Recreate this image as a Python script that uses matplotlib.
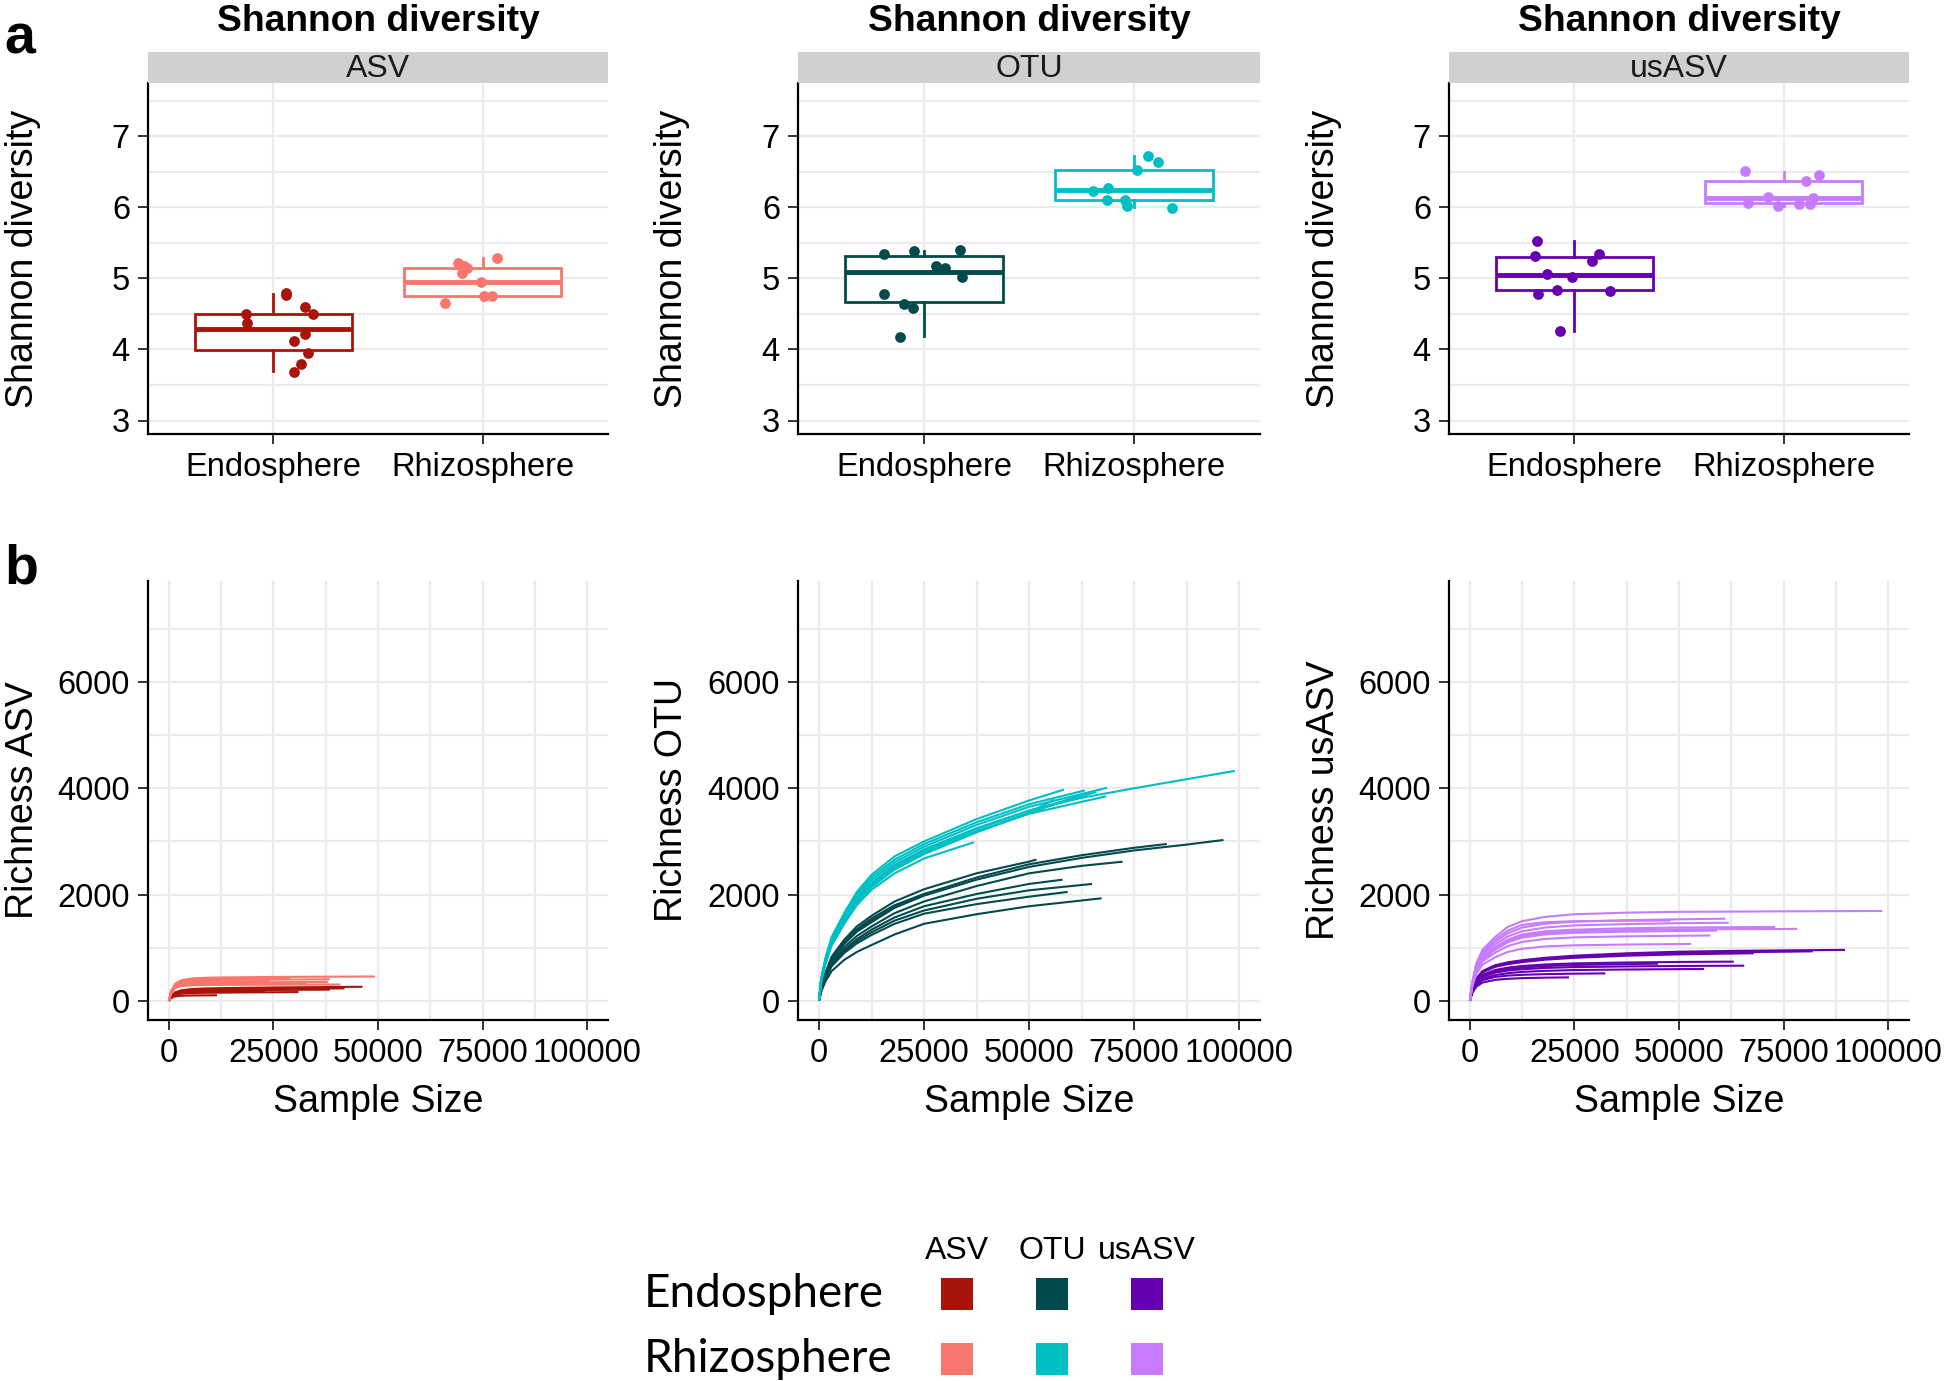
import matplotlib
matplotlib.use("Agg")
import matplotlib.pyplot as plt
from matplotlib.ticker import MultipleLocator

plt.rcParams['font.family'] = ['Liberation Sans', 'DejaVu Sans']

W, H = 1946, 1381

methods = ['ASV', 'OTU', 'usASV']
compartments = ['Endosphere', 'Rhizosphere']
endo_colors = ['#A8140A', '#034A4C', '#6600AE']
rhizo_colors = ['#F8766D', '#00BFC4', '#C77CFF']

# ---- a: Shannon diversity (points + box stats) ----
asv_endo_vals = [4.79, 4.77, 4.50, 4.37, 4.60, 4.50, 4.22, 4.12, 3.95, 3.79, 3.68]
asv_endo_jit = [0.058, 0.06, -0.13, -0.126, 0.151, 0.188, 0.151, 0.097, 0.164, 0.13, 0.10]
asv_rhizo_vals = [5.21, 5.15, 5.07, 5.28, 4.95, 4.75, 4.75, 4.65, 5.18]
asv_rhizo_jit = [-0.116, -0.072, -0.10, 0.068, -0.008, 0.006, 0.044, -0.178, -0.09]
otu_endo_vals = [5.35, 5.38, 5.40, 5.18, 5.15, 5.02, 4.78, 4.64, 4.59, 4.18]
otu_endo_jit = [-0.19, -0.047, 0.17, 0.057, 0.10, 0.18, -0.19, -0.095, -0.051, -0.116]
otu_rhizo_vals = [6.72, 6.64, 6.52, 6.23, 6.27, 6.10, 6.11, 6.02, 5.99]
otu_rhizo_jit = [0.069, 0.116, 0.014, -0.197, -0.124, -0.128, -0.041, -0.032, 0.181]
usasv_endo_vals = [5.53, 5.31, 5.35, 5.25, 5.06, 5.02, 4.78, 4.83, 4.82, 4.26]
usasv_endo_jit = [-0.177, -0.189, 0.119, 0.085, -0.133, -0.01, -0.173, -0.083, 0.171, -0.068]
usasv_rhizo_vals = [6.51, 6.46, 6.37, 6.14, 6.13, 6.06, 6.02, 6.04, 6.05]
usasv_rhizo_jit = [-0.183, 0.169, 0.105, -0.074, 0.139, -0.169, -0.026, 0.074, 0.125]

# q1, median, q3, whisker low, whisker high
box_stats = {
    'ASV': [(3.99, 4.29, 4.50, 3.69, 4.78), (4.75, 4.95, 5.15, 4.70, 5.28)],
    'OTU': [(4.67, 5.09, 5.31, 4.19, 5.39), (6.10, 6.24, 6.53, 6.00, 6.72)],
    'usASV': [(4.83, 5.05, 5.30, 4.26, 5.53), (6.06, 6.125, 6.37, 6.02, 6.50)],
}
points = {
    'ASV': [(asv_endo_vals, asv_endo_jit), (asv_rhizo_vals, asv_rhizo_jit)],
    'OTU': [(otu_endo_vals, otu_endo_jit), (otu_rhizo_vals, otu_rhizo_jit)],
    'usASV': [(usasv_endo_vals, usasv_endo_jit), (usasv_rhizo_vals, usasv_rhizo_jit)],
}

# ---- b: rarefaction curves, richness read at these sample sizes, then end point ----
sizes = [0, 500, 1500, 3000, 6000, 9000, 12500, 18000, 25000, 37500, 50000, 62500, 75000, 87500]

asv_endo_curves = [
    (46300, 265, [0, 90, 160, 200, 225, 234, 240, 246, 252, 260]),
    (42000, 235, [0, 85, 150, 185, 205, 212, 218, 223, 228, 233]),
    (38500, 212, [0, 80, 140, 170, 185, 190, 195, 200, 205]),
    (31000, 166, [0, 70, 115, 135, 148, 152, 155, 159, 162]),
    (23000, 178, [0, 75, 125, 150, 165, 169, 172, 175]),
    (11500, 106, [0, 55, 85, 97, 102, 104]),
]
asv_rhizo_curves = [
    (49300, 458, [0, 180, 320, 390, 425, 434, 440, 445, 450, 455]),
    (38500, 405, [0, 165, 300, 360, 385, 391, 395, 398, 400]),
    (38000, 355, [0, 150, 270, 320, 340, 345, 348, 350, 352]),
    (41000, 308, [0, 140, 240, 280, 295, 298, 300, 302, 305]),
    (29000, 422, [0, 170, 310, 375, 405, 411, 415, 418, 420]),
    (33000, 332, [0, 145, 255, 300, 318, 322, 325, 328, 330]),
    (24000, 372, [0, 160, 285, 340, 360, 365, 368, 370]),
]
otu_endo_curves = [
    (51800, 2658, [0, 250, 520, 830, 1150, 1400, 1600, 1870, 2100, 2400, 2620]),
    (96300, 3027, [0, 230, 480, 770, 1070, 1300, 1480, 1750, 1980, 2280, 2520, 2690, 2830, 2940]),
    (82800, 2952, [0, 235, 490, 780, 1090, 1320, 1510, 1780, 2010, 2320, 2570, 2740, 2880]),
    (72300, 2619, [0, 215, 450, 720, 1010, 1220, 1400, 1650, 1870, 2160, 2400, 2540]),
    (65000, 2200, [0, 200, 420, 670, 930, 1120, 1290, 1510, 1700, 1920, 2080]),
    (59200, 2050, [0, 195, 410, 650, 900, 1080, 1240, 1450, 1640, 1820, 1960]),
    (67300, 1930, [0, 170, 360, 560, 770, 920, 1050, 1250, 1450, 1630, 1780]),
    (26600, 2030, [0, 240, 500, 800, 1110, 1350, 1550, 1800, 2010]),
    (58000, 2280, [0, 205, 430, 690, 960, 1160, 1340, 1570, 1780, 2010, 2200]),
]
otu_rhizo_curves = [
    (58300, 3975, [0, 420, 800, 1200, 1650, 2050, 2370, 2720, 3000, 3420, 3770]),
    (63300, 3960, [0, 400, 780, 1170, 1610, 2000, 2320, 2660, 2950, 3360, 3700]),
    (68600, 4010, [0, 390, 760, 1140, 1570, 1950, 2270, 2610, 2900, 3310, 3650]),
    (68400, 3850, [0, 370, 720, 1080, 1500, 1870, 2180, 2510, 2800, 3190, 3520]),
    (99000, 4327, [0, 380, 740, 1110, 1530, 1910, 2220, 2560, 2850, 3250, 3580, 3820, 4000, 4170]),
    (36900, 2985, [0, 350, 690, 1040, 1450, 1800, 2090, 2400, 2680]),
    (62600, 3880, [0, 360, 700, 1060, 1470, 1840, 2140, 2470, 2760, 3170, 3530]),
    (66000, 3930, [0, 375, 730, 1100, 1520, 1890, 2200, 2530, 2830, 3230, 3580]),
    (56000, 3790, [0, 365, 710, 1070, 1480, 1850, 2150, 2480, 2770, 3180, 3540]),
]
usasv_endo_curves = [
    (89700, 959, [0, 200, 420, 560, 670, 725, 765, 810, 850, 895, 925, 940, 950]),
    (82000, 932, [0, 195, 405, 545, 650, 705, 745, 790, 830, 870, 900, 915, 925]),
    (67900, 896, [0, 190, 400, 535, 640, 690, 730, 775, 810, 850, 875, 890]),
    (63100, 738, [0, 180, 370, 490, 580, 625, 655, 685, 705, 722, 732]),
    (65600, 662, [0, 170, 345, 450, 530, 570, 595, 620, 635, 648, 657]),
    (56000, 600, [0, 160, 320, 415, 485, 520, 545, 565, 580, 590, 597]),
    (32400, 517, [0, 150, 300, 390, 450, 475, 490, 503, 512]),
    (23700, 442, [0, 135, 265, 345, 395, 415, 428, 437]),
    (45000, 700, [0, 175, 360, 470, 555, 600, 625, 655, 675, 692]),
]
usasv_rhizo_curves = [
    (98600, 1691, [0, 320, 700, 960, 1200, 1390, 1500, 1580, 1630, 1660, 1675, 1680, 1685, 1688]),
    (61100, 1546, [0, 300, 650, 890, 1110, 1270, 1380, 1450, 1490, 1518, 1535]),
    (61900, 1470, [0, 290, 620, 850, 1060, 1210, 1310, 1380, 1420, 1445, 1462]),
    (78300, 1356, [0, 280, 590, 800, 990, 1130, 1220, 1280, 1310, 1332, 1345, 1350, 1352]),
    (73000, 1390, [0, 285, 600, 815, 1010, 1150, 1250, 1310, 1340, 1365, 1380, 1386]),
    (59100, 1322, [0, 270, 570, 780, 960, 1100, 1190, 1250, 1280, 1302, 1315]),
    (57500, 1230, [0, 260, 545, 740, 905, 1030, 1110, 1165, 1195, 1215, 1225]),
    (52900, 1072, [0, 245, 505, 680, 820, 920, 980, 1025, 1045, 1060, 1068]),
    (48000, 1512, [0, 310, 670, 920, 1150, 1320, 1430, 1480, 1500, 1508]),
]
curves = {
    'ASV': (asv_endo_curves, asv_rhizo_curves),
    'OTU': (otu_endo_curves, otu_rhizo_curves),
    'usASV': (usasv_endo_curves, usasv_rhizo_curves),
}

shannon_ticks = [3, 4, 5, 6, 7]
richness_ticks = [0, 2000, 4000, 6000]
size_ticks = [0, 25000, 50000, 75000, 100000]

GRID = '#EBEBEB'
TICK_FS = 23.5
LAB_FS = 27


def px(x0, y0, x1, y1):
    # pixel box -> figure fraction rect
    return [x0 / W, 1 - y1 / H, (x1 - x0) / W, (y1 - y0) / H]


def style(ax):
    for s in ['top', 'right']:
        ax.spines[s].set_visible(False)
    for s in ['left', 'bottom']:
        ax.spines[s].set_linewidth(1.6)
        ax.spines[s].set_color('black')
    ax.tick_params(which='major', length=7, width=1.4, color='#333333',
                   labelsize=TICK_FS, labelcolor='black', pad=6)
    ax.tick_params(which='minor', length=0)
    ax.set_axisbelow(True)
    ax.set_facecolor('white')


fig = plt.figure(figsize=(W / 100, H / 100), dpi=100)

col_x = [(148, 608), (798, 1260), (1449, 1909)]

for i, m in enumerate(methods):
    x0, x1 = col_x[i]
    # --- top row: box plots ---
    ax = fig.add_axes(px(x0, 83, x1, 434))
    style(ax)
    ax.xaxis.grid(True, which='major', color=GRID, lw=1.6)
    ax.yaxis.grid(True, which='both', color=GRID, lw=1.6)
    ax.yaxis.set_minor_locator(MultipleLocator(0.5))
    cols = [endo_colors[i], rhizo_colors[i]]
    for j in range(2):
        q1, med, q3, lo, hi = box_stats[m][j]
        st = [dict(q1=q1, med=med, q3=q3, whislo=lo, whishi=hi, fliers=[])]
        c = cols[j]
        ax.bxp(st, positions=[j + 1], widths=0.75, showfliers=False, showcaps=False,
               patch_artist=True,
               boxprops=dict(facecolor='white', edgecolor=c, lw=2.0),
               medianprops=dict(color=c, lw=3.5),
               whiskerprops=dict(color=c, lw=2.0), zorder=2)
        vals, jit = points[m][j]
        ax.scatter([j + 1 + d for d in jit], vals, s=60, color=c, lw=0, zorder=3)
    ax.set_xlim(0.4, 2.6)
    ax.set_ylim(2.81, 7.75)
    ax.set_xticks([1, 2])
    ax.set_xticklabels(compartments)
    ax.set_yticks(shannon_ticks)
    ax.set_ylabel('Shannon diversity', fontsize=LAB_FS)
    ax.yaxis.set_label_coords(-0.233, 0.5)

    strip = fig.add_axes(px(x0, 52, x1, 83))
    strip.set_facecolor('#D0D0D0')
    strip.set_xticks([])
    strip.set_yticks([])
    for s in strip.spines.values():
        s.set_visible(False)
    strip.text(0.5, 0.45, m, ha='center', va='center', fontsize=23, color='#1a1a1a')

    fig.text((x0 + x1) / 2 / W, 1 - 31 / H, 'Shannon diversity', ha='center',
             va='baseline', fontsize=26.8, fontweight='bold')

    # --- bottom row: rarefaction ---
    bx = fig.add_axes(px(x0, 581, x1, 1020))
    style(bx)
    bx.grid(True, which='both', color=GRID, lw=1.6)
    bx.xaxis.set_minor_locator(MultipleLocator(12500))
    bx.yaxis.set_minor_locator(MultipleLocator(1000))
    endo_c, rhizo_c = curves[m]
    for group, c in ((endo_c, endo_colors[i]), (rhizo_c, rhizo_colors[i])):
        for end_x, end_y, vals in group:
            xs = sizes[:len(vals)] + [end_x]
            ys = vals + [end_y]
            bx.plot(xs, ys, color=c, lw=1.5, solid_capstyle='butt',
                    solid_joinstyle='round', zorder=2)
    bx.set_xlim(-5000, 105000)
    bx.set_ylim(-360, 7900)
    bx.set_xticks(size_ticks)
    bx.set_xticklabels([str(t) for t in size_ticks])
    bx.set_yticks(richness_ticks)
    bx.set_yticklabels([str(t) for t in richness_ticks])
    bx.set_ylabel('Richness ' + m, fontsize=LAB_FS)
    bx.yaxis.set_label_coords(-0.233, 0.5)
    bx.set_xlabel('Sample Size', fontsize=LAB_FS)
    bx.xaxis.set_label_coords(0.5, -0.145)

fig.text(4 / W, 1 - 54 / H, 'a', fontsize=40, fontweight='bold', va='baseline')
fig.text(4 / W, 1 - 583 / H, 'b', fontsize=40, fontweight='bold', va='baseline')

# ---- manual legend ----
lg = fig.add_axes(px(957, 1294, 1147, 1359))
lg.set_xlim(0, 2)
lg.set_ylim(1, 0)
lg.axis('off')
for i, m in enumerate(methods):
    lg.text(i, -0.66, m, ha='center', va='center', fontsize=23)
    lg.scatter([i, i], [0, 1], marker='s', s=560, color=[endo_colors[i], rhizo_colors[i]],
               lw=0, clip_on=False)
for r, name in enumerate(compartments):
    lg.text(-3.3, r, name, ha='left', va='center', fontsize=33,
            family=['Lato', 'DejaVu Sans'])

fig.savefig('out.png', dpi=100)
